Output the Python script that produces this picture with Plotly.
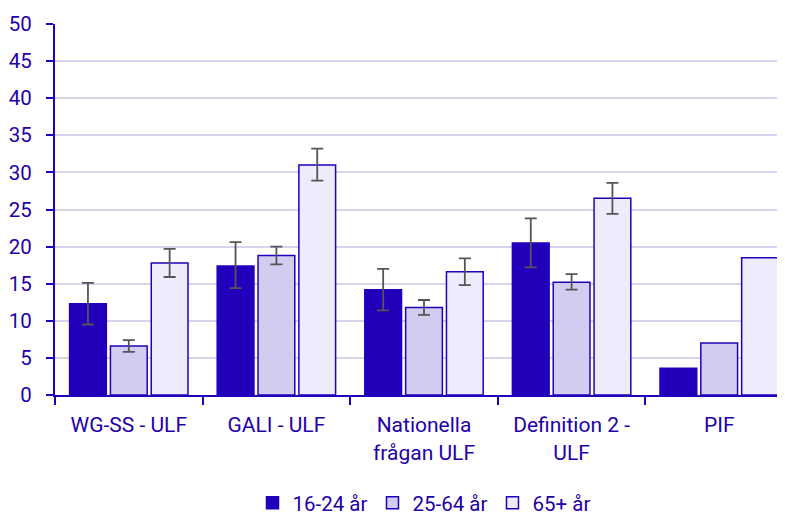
import plotly.graph_objects as go

categories = ["WG-SS - ULF", "GALI - ULF", "Nationella<br>frågan ULF", "Definition 2 -<br>ULF", "PIF"]
series_names = ["16-24 år", "25-64 år", "65+ år"]
values_16_24 = [12.3, 17.4, 14.2, 20.5, 3.6]
values_25_64 = [6.6, 18.8, 11.8, 15.2, 7.0]
values_65 = [17.8, 31.0, 16.6, 26.5, 18.5]
upper_16_24 = [15.1, 20.6, 17.0, 23.8, None]
lower_16_24 = [9.5, 14.4, 11.4, 17.2, None]
upper_25_64 = [7.4, 20.0, 12.8, 16.3, None]
lower_25_64 = [5.8, 17.6, 10.8, 14.2, None]
upper_65 = [19.7, 33.2, 18.4, 28.6, None]
lower_65 = [15.9, 28.9, 14.8, 24.4, None]

fills = ["#2200BB", "#D2CDF0", "#EDEBFC"]
edge = "#2200BB"
text_color = "#2200AA"

fig = go.Figure()
for name, vals, up, lo, col in [
    (series_names[0], values_16_24, upper_16_24, lower_16_24, fills[0]),
    (series_names[1], values_25_64, upper_25_64, lower_25_64, fills[1]),
    (series_names[2], values_65, upper_65, lower_65, fills[2]),
]:
    plus = [round(u - v, 3) if u is not None else "NaN" for u, v in zip(up, vals)]
    minus = [round(v - l, 3) if l is not None else "NaN" for l, v in zip(lo, vals)]
    fig.add_trace(go.Bar(
        name=name, x=categories, y=vals,
        marker=dict(color=col, line=dict(color=edge, width=1.5)),
        error_y=dict(type="data", symmetric=False, array=plus, arrayminus=minus,
                     color="#555555", thickness=1.8, width=6),
    ))

# The page body adds an 8px offset, so margins are reduced accordingly
fig.update_layout(
    width=785, height=515,
    margin=dict(l=47, r=0, t=16, b=128),
    paper_bgcolor="white", plot_bgcolor="white",
    barmode="group", bargap=0.17, bargroupgap=0.1,
    font=dict(family="Roboto", color=text_color, size=19),
    legend=dict(orientation="h", x=0.5, xanchor="center", xref="paper",
                y=0, yanchor="bottom", yref="container",
                font=dict(size=20.5, color=text_color, family="Roboto"), traceorder="normal",
                itemwidth=30),
    showlegend=True,
)
fig.update_yaxes(range=[0, 50], dtick=5, showgrid=True, gridcolor="#D4D4EC", gridwidth=1.5,
                 showline=True, linecolor=edge, linewidth=2, ticks="outside", ticklen=7,
                 tickcolor=edge, tickwidth=2, zeroline=False, automargin=False,
                 ticklabelstandoff=10,
                 tickfont=dict(size=20.5, family="Roboto"))
fig.update_xaxes(showline=True, linecolor=edge, linewidth=2, ticks="outside", ticklen=8,
                 tickcolor=edge, tickwidth=2, tickson="boundaries", automargin=False,
                 ticklabelstandoff=10,
                 tickfont=dict(size=21, family="Roboto"))

fig.write_html("out.html")
